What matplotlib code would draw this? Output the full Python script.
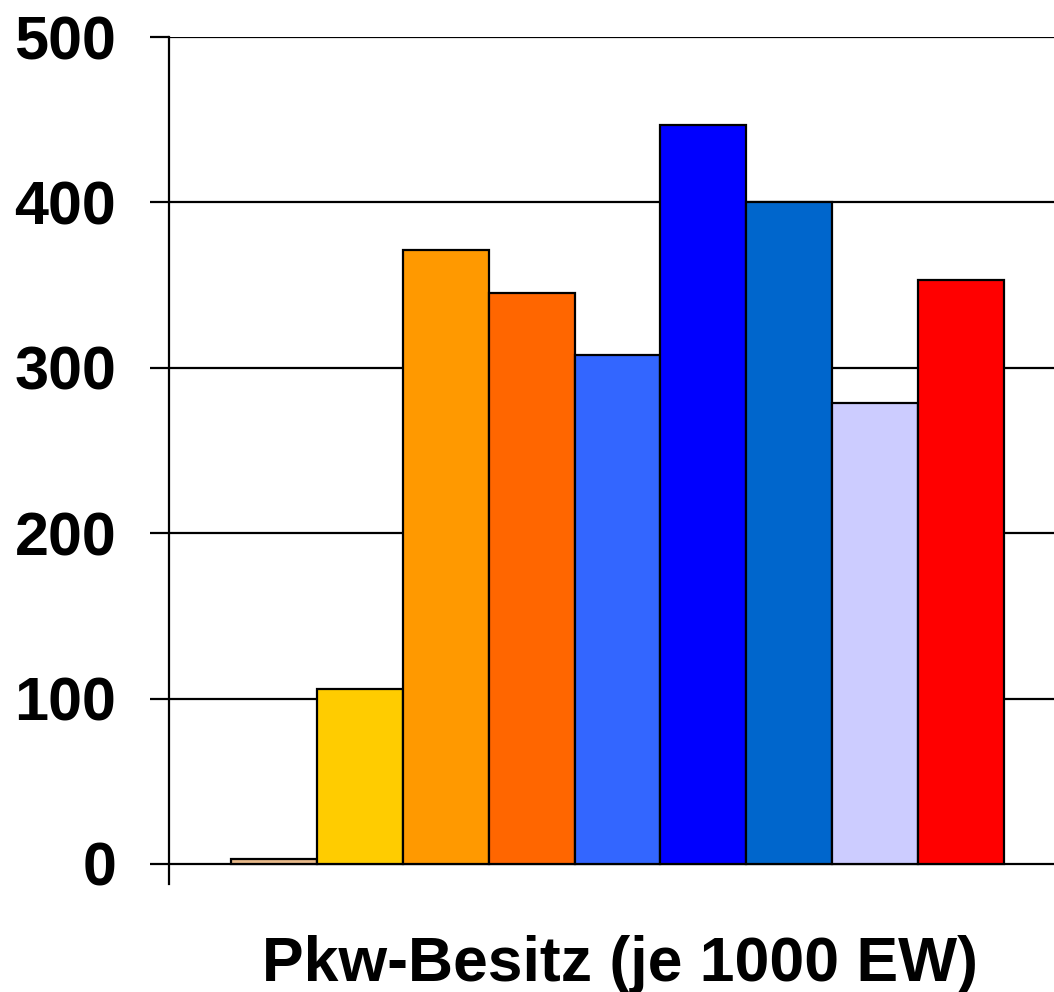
import matplotlib.pyplot as plt

# Pkw-Besitz je 1000 Einwohner
values = [3, 106, 371, 345, 308, 447, 400, 279, 353]
colors = ['#E8B98A', '#FFCC00', '#FF9900', '#FF6600', '#3366FF',
          '#0000FF', '#0066CC', '#CCCCFF', '#FF0000']
yticks = [0, 100, 200, 300, 400, 500]

plt.rcParams['font.family'] = ['Liberation Sans', 'DejaVu Sans']

fig = plt.figure(figsize=(10.54, 9.92), dpi=100)
ax = fig.add_axes([0.1603, 0.1089, 0.8397, 0.8538])

x = list(range(len(values)))
ax.bar(x, values, width=1.0, color=colors, edgecolor='black', linewidth=1.6, zorder=3)

ax.set_xlim(-1.22, 9.08)
ax.set_ylim(-12.1, 500)
ax.set_yticks(yticks)
ax.set_yticklabels([str(v) for v in yticks], fontsize=44, fontweight='bold')
ax.set_xticks([])

ax.grid(True, axis='y', color='black', linewidth=1.6, zorder=0)
ax.tick_params(axis='y', length=14, width=1.6, pad=24, direction='out')

for side in ['top', 'right', 'bottom']:
    ax.spines[side].set_visible(False)
ax.spines['left'].set_linewidth(1.6)

ax.set_xlabel('Pkw-Besitz (je 1000 EW)', fontsize=45, fontweight='bold', labelpad=32)
ax.xaxis.set_label_coords(0.51, -0.06, transform=ax.transAxes)
ax.xaxis.label.set_va('top')

fig.savefig('out.png', dpi=100, facecolor='white')
